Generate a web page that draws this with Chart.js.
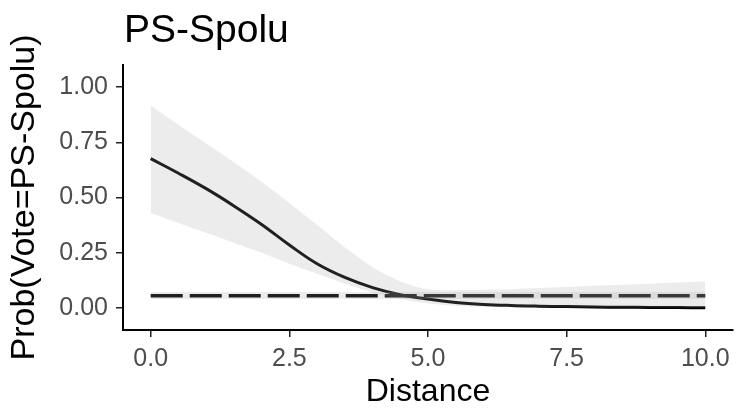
<!DOCTYPE html>
<html>
<head>
<meta charset="utf-8">
<script src="https://cdn.jsdelivr.net/npm/chart.js@4/dist/chart.umd.min.js"></script>
<style>
  html, body { margin: 0; padding: 0; background: #fff; }
  #wrap { width: 737px; height: 411px; }
</style>
</head>
<body>
<div id="wrap"><canvas id="myChart"></canvas></div>
<script>
// values
const distance = [0, 0.5, 1, 1.5, 2, 2.5, 3, 3.5, 4, 4.5, 5, 5.5, 6, 6.5, 7, 7.5, 8, 8.5, 9, 9.5, 10];
const probPS = [0.676, 0.61, 0.54, 0.462, 0.378, 0.285, 0.2, 0.138, 0.092, 0.06, 0.04, 0.025, 0.016, 0.011, 0.008, 0.006, 0.004, 0.003, 0.002, 0.0015, 0.001];
const upperPS = [0.915, 0.83, 0.745, 0.66, 0.57, 0.475, 0.375, 0.275, 0.185, 0.12, 0.085, 0.08, 0.082, 0.085, 0.09, 0.095, 0.1, 0.105, 0.11, 0.115, 0.12];
const lowerPS = [0.43, 0.385, 0.34, 0.295, 0.25, 0.2, 0.155, 0.11, 0.07, 0.04, 0.02, 0.01, 0.005, 0.002, 0.002, 0.002, 0.002, 0.002, 0.002, 0.002, 0.002];
const probBase = [0.055, 0.055, 0.055, 0.055, 0.055, 0.055, 0.055, 0.055, 0.055, 0.055, 0.055, 0.055, 0.055, 0.055, 0.055, 0.055, 0.055, 0.055, 0.055, 0.055, 0.055];
const upperBase = [0.072, 0.072, 0.072, 0.072, 0.072, 0.072, 0.072, 0.072, 0.072, 0.072, 0.072, 0.072, 0.072, 0.072, 0.072, 0.072, 0.072, 0.072, 0.072, 0.072, 0.072];
const lowerBase = [0.04, 0.04, 0.04, 0.04, 0.04, 0.04, 0.04, 0.04, 0.04, 0.04, 0.04, 0.04, 0.04, 0.04, 0.04, 0.04, 0.04, 0.04, 0.04, 0.04, 0.04];
const yTicks = [0, 0.25, 0.5, 0.75, 1];
const xTicks = [0, 2.5, 5, 7.5, 10];

const pts = arr => arr.map((v, i) => ({ x: distance[i], y: v }));
const bandColor = 'rgba(160,160,160,0.2)';
const fontFam = '"Liberation Sans", Arial, sans-serif';

// title drawn at the left edge of the plot area
const titlePlugin = {
    id: 'plotTitle',
    afterDraw(chart) {
        const c = chart.ctx;
        c.save();
        c.font = '39px ' + fontFam;
        c.fillStyle = '#000';
        c.textBaseline = 'alphabetic';
        c.fillText('PS-Spolu', chart.chartArea.left + 1, 42);
        c.restore();
    }
};

const ctx = document.getElementById('myChart').getContext('2d');
const myChart = new Chart(ctx, {
    type: 'line',
    data: {
        datasets: [
            { data: pts(upperPS), borderWidth: 0, pointRadius: 0, fill: '+1', backgroundColor: bandColor, cubicInterpolationMode: 'monotone' },
            { data: pts(lowerPS), borderWidth: 0, pointRadius: 0, fill: false, cubicInterpolationMode: 'monotone' },
            { data: pts(upperBase), borderWidth: 0, pointRadius: 0, fill: '+1', backgroundColor: bandColor },
            { data: pts(lowerBase), borderWidth: 0, pointRadius: 0, fill: false },
            { data: pts(probPS), borderColor: '#000', borderWidth: 3, pointRadius: 0, fill: false, tension: 0.4 },
            { data: pts(probBase), borderColor: '#000', borderWidth: 3.5, borderDash: [32, 7], pointRadius: 0, fill: false }
        ]
    },
    plugins: [titlePlugin],
    options: {
        responsive: true,
        maintainAspectRatio: false,
        animation: false,
        layout: { padding: { top: 65, left: 0, right: 4, bottom: 0 } },
        plugins: { legend: { display: false }, tooltip: { enabled: false } },
        scales: {
            x: {
                type: 'linear',
                min: -0.5,
                max: 10.5,
                afterBuildTicks: s => { s.ticks = xTicks.map(v => ({ value: v })); },
                afterFit: s => { s.height = 81; },
                border: { display: true, color: '#000', width: 2 },
                grid: { drawOnChartArea: false, drawTicks: true, tickLength: 7, color: '#222', lineWidth: 1.5 },
                ticks: {
                    color: '#4d4d4d',
                    font: { size: 25, family: fontFam },
                    padding: 7,
                    maxRotation: 0,
                    callback: v => v.toFixed(1)
                },
                title: {
                    display: true,
                    text: 'Distance',
                    color: '#000',
                    font: { size: 32, family: fontFam },
                    padding: { top: 0, bottom: 0 }
                }
            },
            y: {
                min: -0.1,
                max: 1.1,
                afterBuildTicks: s => { s.ticks = yTicks.map(v => ({ value: v })); },
                afterFit: s => { s.width = 123; },
                border: { display: true, color: '#000', width: 2 },
                grid: { drawOnChartArea: false, drawTicks: true, tickLength: 7, color: '#222', lineWidth: 1.5 },
                ticks: {
                    color: '#4d4d4d',
                    font: { size: 25, family: fontFam },
                    padding: 8,
                    callback: v => v.toFixed(2)
                },
                title: {
                    display: true,
                    text: 'Prob(Vote=PS-Spolu)',
                    color: '#000',
                    font: { size: 34, family: fontFam },
                    padding: { top: 4, bottom: 0 }
                }
            }
        }
    }
});
</script>
</body>
</html>
